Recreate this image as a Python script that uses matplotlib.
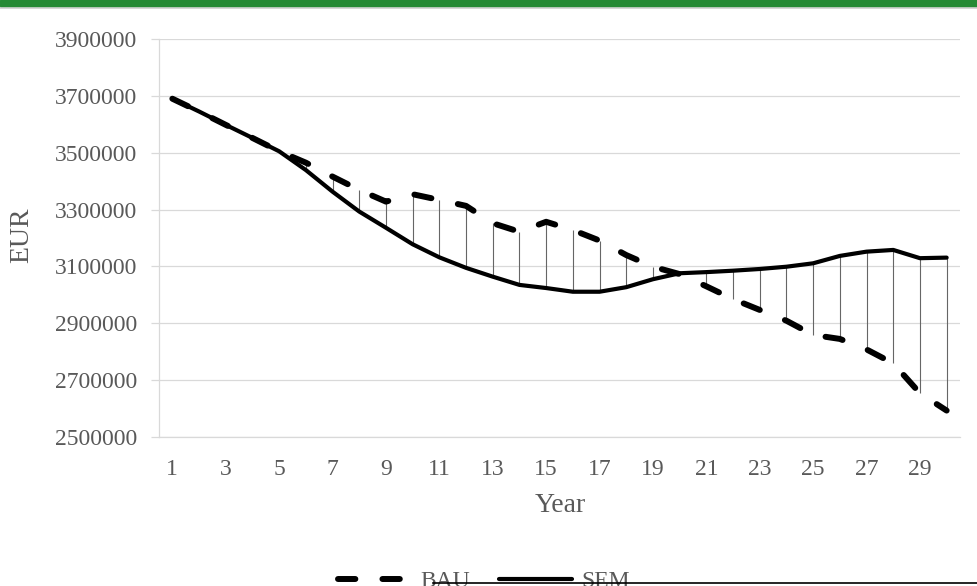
import matplotlib
matplotlib.use("Agg")
import matplotlib.pyplot as plt
from matplotlib.lines import Line2D
from matplotlib.patches import Rectangle
import numpy as np

years = list(range(1, 31))
bau = [3690000, 3645000, 3598000, 3552000, 3505000, 3465000, 3416000, 3369000,
       3328000, 3354000, 3334000, 3313000, 3252000, 3222000, 3257000, 3228000,
       3191000, 3140000, 3099000, 3073000, 3030000, 2985000, 2947000, 2909000,
       2859000, 2845000, 2808000, 2759000, 2654000, 2593000]
sem = [3690000, 3645000, 3598000, 3552000, 3505000, 3439000, 3363000, 3293000,
       3236000, 3178000, 3132000, 3095000, 3064000, 3035000, 3024000, 3011000,
       3011000, 3027000, 3055000, 3076000, 3080000, 3085000, 3091000, 3099000,
       3111000, 3137000, 3152000, 3158000, 3129000, 3131000]
yticks = [2500000, 2700000, 2900000, 3100000, 3300000, 3500000, 3700000, 3900000]
xtick_labels = [str(y) for y in range(1, 30, 2)]

plt.rcParams['font.family'] = ['Liberation Serif', 'DejaVu Serif']
plt.rcParams['lines.scale_dashes'] = False

W, H = 977, 586
fig = plt.figure(figsize=(W / 100, H / 100), dpi=100)
ax = fig.add_axes([159 / W, 1 - 437 / H, (960 - 159) / W, (437 - 39) / H])

gray_txt = '#595959'
grid_c = '#d9d9d9'

ax.vlines(years, np.minimum(bau, sem), np.maximum(bau, sem), color='#666666', lw=0.8, zorder=2)
ax.plot(years, bau, color='black', lw=4.3, solid_capstyle='round', dash_capstyle='round',
        dash_joinstyle='round', dashes=(12.5, 19.5), label='BAU', zorder=3)
ax.plot(years, sem, color='black', lw=3.0, solid_capstyle='round', solid_joinstyle='round',
        label='SEM', zorder=4)

ax.set_xlim(0.5, 30.5)
ax.set_ylim(2500000, 3900000)
ax.set_yticks(yticks)
ax.set_yticklabels([str(v) for v in yticks])
ax.set_xticks(list(range(1, 30, 2)))
ax.set_xticklabels(xtick_labels)
ax.yaxis.grid(True, color=grid_c, lw=0.9)
ax.set_axisbelow(True)
for s in ['top', 'right']:
    ax.spines[s].set_visible(False)
ax.spines['left'].set_color(grid_c)
ax.spines['bottom'].set_color(grid_c)
ax.spines['left'].set_linewidth(0.9)
ax.spines['bottom'].set_linewidth(0.9)
ax.tick_params(axis='y', length=5.8, color=grid_c, width=0.9, pad=10, labelsize=17, labelcolor=gray_txt)
ax.tick_params(axis='x', length=0, pad=16, labelsize=17, labelcolor=gray_txt)

ax.set_ylabel('EUR', fontsize=20, color=gray_txt)
ax.set_xlabel('Year', fontsize=20, color=gray_txt)
ax.yaxis.set_label_coords(-(159 - 22) / (960 - 159), (437 - 235) / (437 - 39))
ax.xaxis.set_label_coords((560 - 159) / (960 - 159), -(506 - 437) / (437 - 39))
ax.xaxis.label.set_va('center')
ax.yaxis.label.set_va('center')

leg = fig.legend(loc='center', bbox_to_anchor=(484 / W, 1 - 581 / H), ncol=2, frameon=False,
                 fontsize=17, handlelength=3.1, handletextpad=0.4, columnspacing=1.2,
                 labelcolor=gray_txt)

# top green band
fig.patches.append(Rectangle((0, 1 - 6 / H), 1, 6 / H, transform=fig.transFigure,
                             color='#268a35', zorder=10))
fig.lines.append(Line2D([0, 1], [1 - 7.5 / H, 1 - 7.5 / H], transform=fig.transFigure,
                        color='#d0d0d0', lw=1.2))
fig.lines.append(Line2D([433 / W, 1], [1 - 583 / H, 1 - 583 / H], transform=fig.transFigure,
                        color='black', lw=1.2, zorder=10))

fig.savefig('out.png', dpi=100)
